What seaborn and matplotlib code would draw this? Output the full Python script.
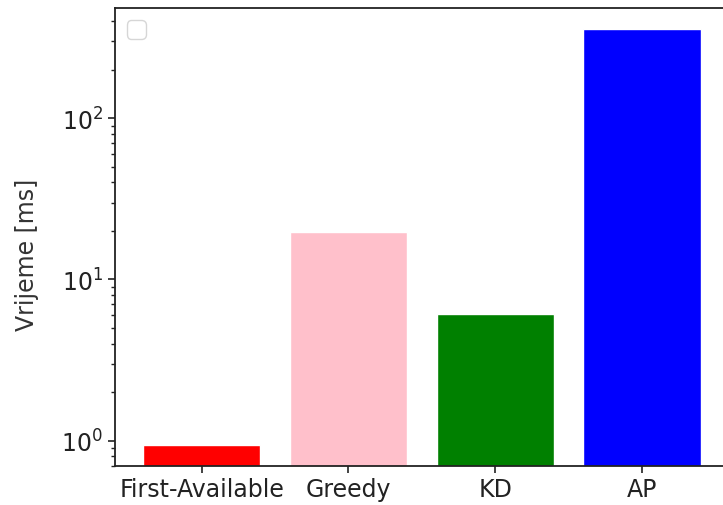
import warnings
import matplotlib
matplotlib.use("Agg")
import matplotlib.pyplot as plt
import seaborn as sns
import pandas as pd

# Mean run time per allocation algorithm
algorithms = ["First-Available", "Greedy", "KD", "AP"]
times_ms = [0.94, 19.8, 6.1, 358]
bar_colors = ["red", "pink", "green", "blue"]

sns.set_style("ticks")
plt.rcParams["font.family"] = ["DejaVu Sans"]
plt.rcParams["font.size"] = 17

df = pd.DataFrame({"algorithm": algorithms, "time": times_ms})

fig = plt.figure(figsize=(7.23, 5.06), dpi=100)
ax = fig.add_axes([0.159, 0.0777, 0.849, 0.904])

sns.barplot(data=df, x="algorithm", y="time", hue="algorithm",
            palette=bar_colors, width=0.8, saturation=1.0,
            legend=False, ax=ax)

ax.set_yscale("log")
ax.set_ylim(0.70, 481)
ax.set_xlim(-0.59, 3.59)
ax.set_xlabel("")
ax.set_ylabel("Vrijeme [ms]", fontsize=17, color="#333333")
ax.yaxis.set_label_coords(-0.124, 0.463)

for s in ax.spines.values():
    s.set_linewidth(1.3)
    s.set_color("#222222")
ax.tick_params(axis="both", which="major", labelsize=17, length=5,
               width=1.2, colors="#222222")
ax.tick_params(axis="y", which="minor", length=3, width=1.0, colors="#222222")

with warnings.catch_warnings():
    warnings.simplefilter("ignore")
    ax.legend(loc="upper left")

fig.savefig("out.png", dpi=100)
